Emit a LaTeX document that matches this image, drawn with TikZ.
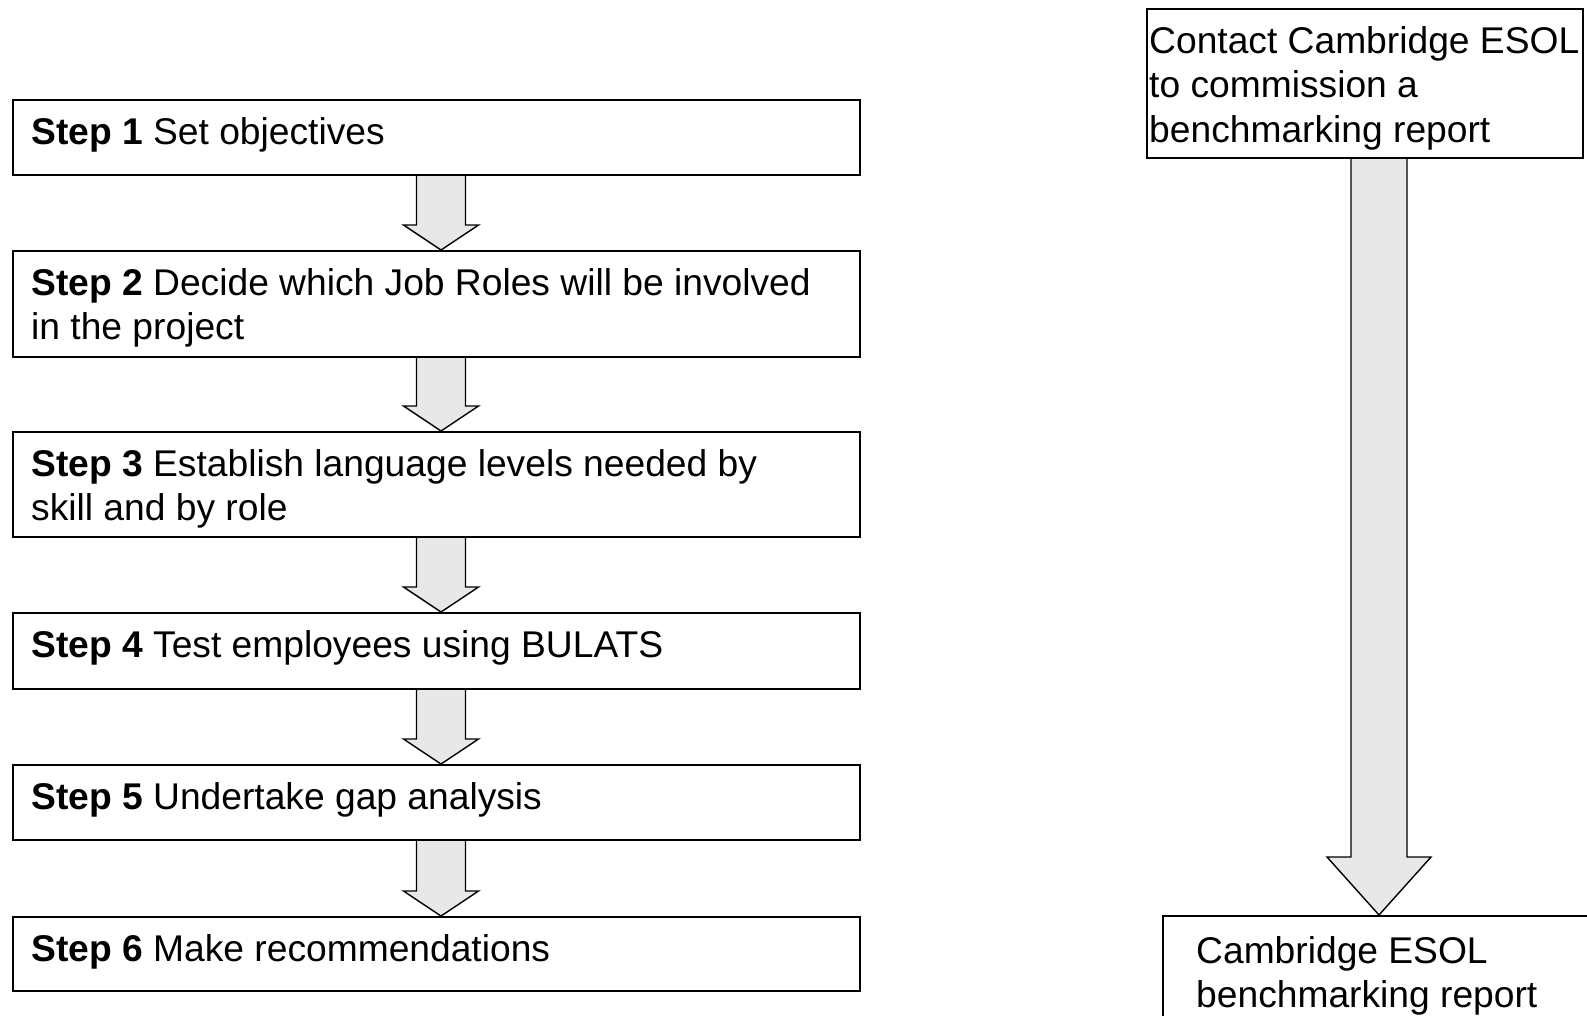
\documentclass[tikz,border=0pt]{standalone}
\usepackage{fontspec}
\setmainfont{Liberation Sans}
\usetikzlibrary{calc,backgrounds}
\definecolor{arrowfill}{HTML}{E8E8E8}
\newcommand\myarrow[5]{%
  \draw[blockarrow] ($(#1)+(-#3,0)$) -- ($(#2)+(-#3,-#5)$) -- ($(#2)+(-#4,-#5)$) -- (#2)
     -- ($(#2)+(#4,-#5)$) -- ($(#2)+(#3,-#5)$) -- ($(#1)+(#3,0)$);}
\tikzset{
  box/.style={draw=black, line width=2pt, rectangle, anchor=north west, inner sep=0pt, fill=none},
  txt/.style={anchor=north west, inner sep=0pt, align=left, font={\fontsize{37.2}{44.5}\selectfont}},
  blockarrow/.style={draw=black, line width=1.4pt, fill=arrowfill, line join=miter},
}
\begin{document}
\begin{tikzpicture}[x=1pt, y=-1pt]
\useasboundingbox (0,0) rectangle (1587,1015);
\clip (0,0) rectangle (1587,1015);
% left boxes
\node[box, minimum width=847pt, minimum height=75pt]  (s1) at (12,99)  {};
\node[box, minimum width=847pt, minimum height=106pt] (s2) at (12,250) {};
\node[box, minimum width=847pt, minimum height=105pt] (s3) at (12,431) {};
\node[box, minimum width=847pt, minimum height=76pt]  (s4) at (12,612) {};
\node[box, minimum width=847pt, minimum height=75pt]  (s5) at (12,764) {};
\node[box, minimum width=847pt, minimum height=74pt]  (s6) at (12,916) {};
\node[txt] (t1) at ($(s1.north west)+(19,13.85)$) {\strut\textbf{Step 1} Set objectives};
\node[txt] (t2) at ($(s2.north west)+(19,13.85)$) {\strut\textbf{Step 2} Decide which Job Roles will be involved\\in the project};
\node[txt] (t3) at ($(s3.north west)+(19,13.85)$) {\strut\textbf{Step 3} Establish language levels needed by\\skill and by role};
\node[txt] (t4) at ($(s4.north west)+(19,13.85)$) {\strut\textbf{Step 4} Test employees using BULATS};
\node[txt] (t5) at ($(s5.north west)+(19,13.85)$) {\strut\textbf{Step 5} Undertake gap analysis};
\node[txt] (t6) at ($(s6.north west)+(19,13.85)$) {\strut\textbf{Step 6} Make recommendations};
% right boxes
\node[box, minimum width=436pt, minimum height=149pt] (r1) at (1146,8) {};
\node[box, minimum width=460pt, minimum height=150pt] (r2) at (1162,915) {};
\node[txt] (rt1) at ($(r1.north west)+(3,13.85)$) {\strut Contact Cambridge ESOL\\to commission a\\benchmarking report};
\node[txt] (rt2) at ($(r2.north west)+(34,16.85)$) {\strut Cambridge ESOL\\benchmarking report};
% arrows
\begin{scope}[on background layer]
\foreach \a/\b in {s1/s2, s2/s3, s3/s4, s4/s5, s5/s6}{
  \coordinate (top) at ($(\a.south west)+(429,0)$);
  \coordinate (tip) at ($(\b.north west)+(429,0)$);
  \myarrow{top}{tip}{24.5}{37.5}{25}
}
\coordinate (rtop) at ($(r1.south west)+(233,0)$);
\coordinate (rtip) at ($(r2.north west)+(217,0)$);
\myarrow{rtop}{rtip}{28}{52}{58}
\end{scope}
\end{tikzpicture}
\end{document}
